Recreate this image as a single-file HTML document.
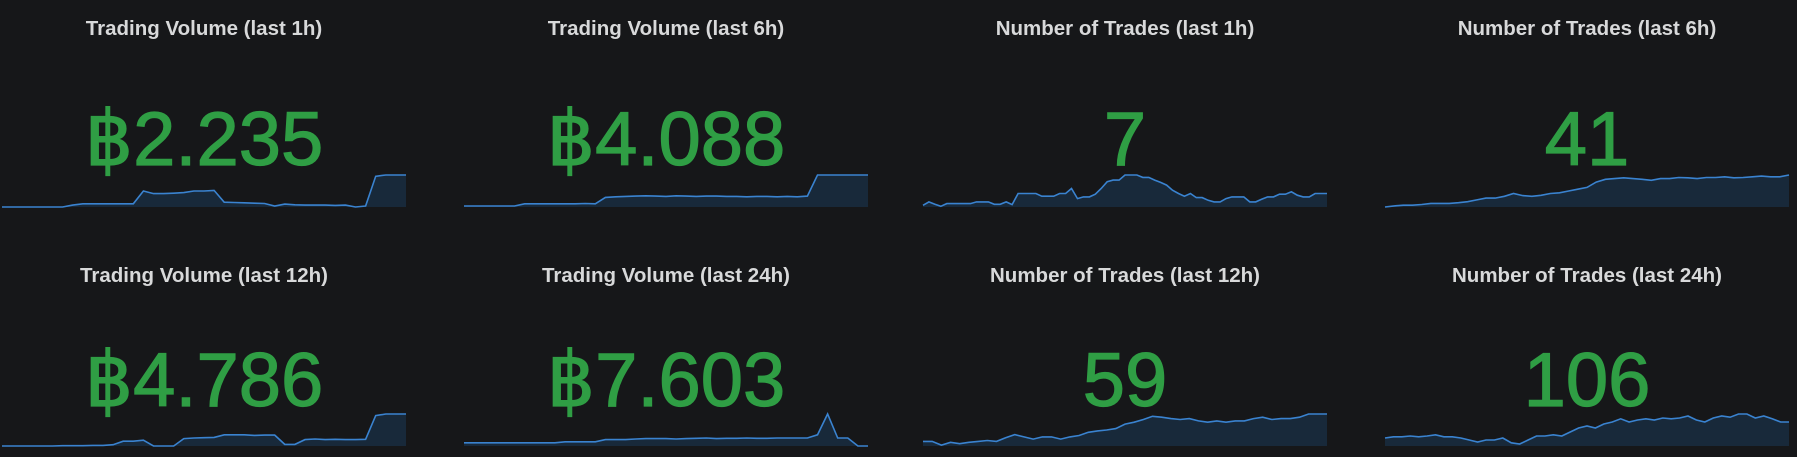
<!DOCTYPE html>
<html><head><meta charset="utf-8"><style>
html,body{margin:0;padding:0;background:#161719;}
svg{display:block}
.t{font-family:"Liberation Sans",sans-serif;font-size:20.5px;font-weight:bold;fill:#d8d9da;text-anchor:middle}
.v{font-family:"Liberation Sans","DejaVu Sans",sans-serif;font-size:76px;fill:#2f9e44;stroke:#2f9e44;stroke-width:1.2px;text-anchor:middle}
</style></head><body>
<svg id="c" width="1797" height="457"></svg>
<script>
const titles=["Trading Volume (last 1h)","Trading Volume (last 6h)","Number of Trades (last 1h)","Number of Trades (last 6h)","Trading Volume (last 12h)","Trading Volume (last 24h)","Number of Trades (last 12h)","Number of Trades (last 24h)"];
const values=["฿2.235","฿4.088","7","41","฿4.786","฿7.603","59","106"];
const s1=[0,0,0,0,0,0,0,0.6,1,1,1,1,1,1,5,4.2,4.2,4.3,4.5,5,5,5.2,1.5,1.4,1.3,1.2,1.1,0.3,0.9,0.7,0.6,0.6,0.6,0.5,0.6,0,0.3,9.6,10,10,10];
const s2=[0.3,0.3,0.3,0.3,0.3,0.3,1,1,1,1,1,1,1.1,1,3,3.2,3.3,3.4,3.5,3.4,3.3,3.5,3.4,3.3,3.4,3.4,3.3,3.3,3.2,3.3,3.3,3.2,3.3,3.2,3.4,10,10,10,10,10,10];
const s3=[0.5,1.5,0.8,0.2,1,1,1,1,1,1.5,1.5,1.5,0.8,0.8,1.5,0.7,4,4,4,4,3.2,3.2,3.2,4,4,5.5,2.5,3,3,3.8,5.5,7.5,8,8,9.5,9.5,9.5,8.8,8.8,8,7.3,6.5,5,4,3.2,4,2.8,2.8,2,1.5,1.5,2.5,3,3,3,1.5,1.5,2.3,3,3,3.8,3.8,4.5,3.5,3,3,4,4,4];
const s4=[0,0.3,0.5,0.5,0.7,1,1,1,1.2,1.5,2,2.5,2.5,3,3.8,3.2,3,3.3,3.8,4,4.5,5,5.5,7,7.8,8,8.2,8,7.8,7.5,8,8,8.3,8.2,8,8.3,8.3,8.5,8.2,8.3,8.5,8.7,8.5,8.5,9];
const s5=[0,0,0,0,0,0,0.1,0.1,0.1,0.2,0.2,0.4,1.5,1.5,1.8,0,0,0,2.3,2.5,2.6,2.7,3.5,3.5,3.5,3.3,3.4,3.4,0.5,0.5,2,2.2,2,2.1,2,2,2.1,9.5,10,10,10];
const s6=[1,1,1,1,1,1,1,1,1,1,1.3,1.3,1.3,1.3,2,2,2,2.2,2.3,2.3,2.3,2.2,2.3,2.4,2.5,2.3,2.4,2.4,2.5,2.4,2.4,2.5,2.5,2.5,2.5,3.5,10,2.5,2.5,0,0];
const s7=[1,1,0.2,0.8,0.5,0.8,1,1.2,1,1.8,2.5,2,1.5,2,2,1.5,2,2.3,3,3.3,3.5,3.8,4.8,5.2,5.8,6.5,6.3,6,5.8,6,5.5,5.2,5.5,5.2,5.5,5.5,6,6.3,5.8,6,6,6.3,7,7,7];
const s8=[2,2.3,2.3,2.5,2.3,2.5,2.8,2.3,2.3,2,1.5,1,1.5,1.5,2,0.8,0.5,1.5,2.5,2.5,2.8,2.5,3.5,4.5,5,4.5,5.5,6,6.8,6,6.5,6.8,6.5,7,6.8,7,7.5,6.5,6,7,7.5,7.2,8,8,7,7.5,6.8,6,6];
const series=[s1,s2,s3,s4,s5,s6,s7,s8];
const vmax=[10,10,9.5,9,10,10,7,8];
const svg=document.getElementById('c');const NS='http://www.w3.org/2000/svg';
const colX=[2,464,923,1385],W=404;
const rowT=[35,282],rowV=[165,406],rowB=[207,446],H=32;
function xs(i,n,c){return colX[c]+W*i/(n-1);}
function ys(v,m,r){return rowB[r]-H*v/m;}
for(let k=0;k<8;k++){
 const c=k%4,r=Math.floor(k/4);
 const g=document.createElementNS(NS,'g');
 
 
 const t=document.createElementNS(NS,'text');t.setAttribute('class','t');
 t.setAttribute('x',colX[c]+202);t.setAttribute('y',rowT[r]);t.textContent=titles[k];
 
 
 g.appendChild(t);
 const d=series[k];let p='';
 d.forEach((v,i)=>{p+=(i?'L':'M')+xs(i,d.length,c).toFixed(1)+' '+ys(v,vmax[k],r).toFixed(1);});
 const a=document.createElementNS(NS,'path');
 a.setAttribute('d',p+'L'+(colX[c]+W)+' '+rowB[r]+'L'+colX[c]+' '+rowB[r]+'Z');
 a.setAttribute('fill','rgba(31,96,160,0.25)');
 
 
 g.appendChild(a);
 const l=document.createElementNS(NS,'path');l.setAttribute('d',p);
 l.setAttribute('fill','none');l.setAttribute('stroke','#3a83d0');l.setAttribute('stroke-width','1.6');
 
 
 g.appendChild(l);
 const v=document.createElementNS(NS,'text');v.setAttribute('class','v');
 v.setAttribute('x',colX[c]+202);v.setAttribute('y',rowV[r]);v.textContent=values[k];
 
 
 g.appendChild(v);
 svg.appendChild(g);
}
</script>
</body></html>
